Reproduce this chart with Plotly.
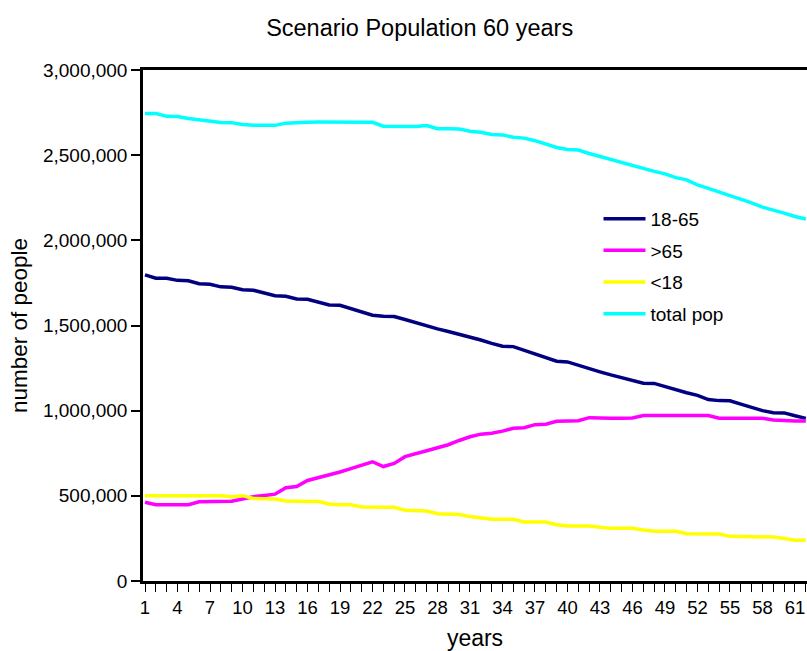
import plotly.graph_objects as go

years = list(range(1, 63))

total_pop = [2745, 2745, 2728, 2727, 2715, 2707, 2700, 2692, 2691, 2680,
             2675, 2675, 2675, 2688, 2688, 2693, 2694, 2694, 2694, 2694,
             2690, 2693, 2670, 2670, 2670, 2668, 2674, 2655, 2655, 2654,
             2640, 2635, 2622, 2619, 2605, 2600, 2585, 2565, 2545, 2533,
             2530, 2510, 2492, 2472, 2455, 2438, 2422, 2405, 2390, 2368,
             2355, 2325, 2305, 2285, 2263, 2245, 2220, 2195, 2180, 2160,
             2140, 2125]

age_18_65 = [1797, 1778, 1777, 1765, 1763, 1745, 1742, 1727, 1725, 1710,
             1707, 1690, 1675, 1672, 1656, 1654, 1635, 1620, 1619, 1600,
             1580, 1560, 1554, 1553, 1535, 1515, 1498, 1480, 1465, 1450,
             1435, 1415, 1395, 1378, 1376, 1355, 1335, 1310, 1290, 1286,
             1265, 1245, 1228, 1210, 1195, 1175, 1161, 1160, 1140, 1120,
             1105, 1090, 1065, 1059, 1058, 1038, 1020, 1000, 988, 987,
             970, 955]

age_over_65 = [462, 448, 447, 447, 448, 465, 466, 467, 468, 481,
               495, 502, 510, 548, 555, 590, 605, 622, 640, 660,
               680, 700, 672, 690, 730, 750, 765, 782, 800, 825,
               847, 862, 867, 880, 897, 900, 918, 920, 938, 940,
               941, 959, 955, 956, 956, 957, 971, 971, 971, 971,
               971, 971, 971, 956, 956, 956, 955, 955, 945, 940,
               940, 940]

age_under_18 = [501, 501, 501, 501, 501, 501, 501, 501, 495, 501,
                485, 481, 481, 470, 466, 466, 466, 452, 448, 448,
                435, 433, 433, 433, 415, 411, 411, 395, 392, 390,
                378, 370, 362, 362, 362, 346, 346, 346, 330, 323,
                323, 323, 315, 309, 309, 309, 300, 292, 292, 292,
                278, 276, 276, 276, 262, 260, 260, 258, 258, 250,
                239, 239]

series = [
    ("18-65", age_18_65, "#000080"),
    (">65", age_over_65, "#FF00FF"),
    ("<18", age_under_18, "#FFFF00"),
    ("total pop", total_pop, "#00FFFF"),
]

x_tick_vals = list(range(1, 62, 3))
y_tick_vals = [0, 500000, 1000000, 1500000, 2000000, 2500000, 3000000]

fig = go.Figure()
for name, vals, color in series:
    fig.add_trace(go.Scatter(
        x=years, y=[v * 1000 for v in vals], mode="lines", name=name,
        legendgroup=name,
        line=dict(color=color, width=3.5),
    ))

font_family = "Liberation Sans, Arial, sans-serif"

fig.update_layout(
    width=807, height=651,
    margin=dict(l=143, r=0, t=70, b=70),
    paper_bgcolor="white", plot_bgcolor="white",
    font=dict(family=font_family, color="black", size=19),
    title=dict(text="Scenario Population 60 years", x=0.52, xref="container",
               y=0.958, yref="container", xanchor="center", yanchor="middle",
               font=dict(size=23.5, family=font_family, color="black")),
    legend=dict(x=0.686, y=0.746, xanchor="left", yanchor="top",
                font=dict(size=19), tracegroupgap=4, itemwidth=42,
                bgcolor="rgba(0,0,0,0)"),
    showlegend=True,
)

fig.update_xaxes(
    range=[0.815, 62.11],
    tickmode="array", tickvals=x_tick_vals,
    ticks="outside", ticklen=8, tickwidth=1, tickcolor="black",
    minor=dict(dtick=1, tick0=1, ticks="outside", ticklen=8, tickwidth=1,
               tickcolor="black", showgrid=False),
    showline=True, linecolor="black", linewidth=2.5, mirror=True,
    showgrid=False, zeroline=False,
    ticklabeloverflow="allow",
    tickfont=dict(size=18.5),
    title=dict(text="years", font=dict(size=23), standoff=14),
)

fig.update_yaxes(
    range=[0, 3000000],
    tickmode="array", tickvals=y_tick_vals, tickformat=",",
    ticks="outside", ticklen=9, tickwidth=1.5, tickcolor="black",
    showline=True, linecolor="black", linewidth=2.5,
    showgrid=False, zeroline=False,
    tickfont=dict(size=19),
    title=dict(text="number of people", font=dict(size=22.5), standoff=10),
)

fig.write_html("out.html", config={"displayModeBar": False},
               post_script="document.body.style.margin='0';document.body.style.padding='0';")
